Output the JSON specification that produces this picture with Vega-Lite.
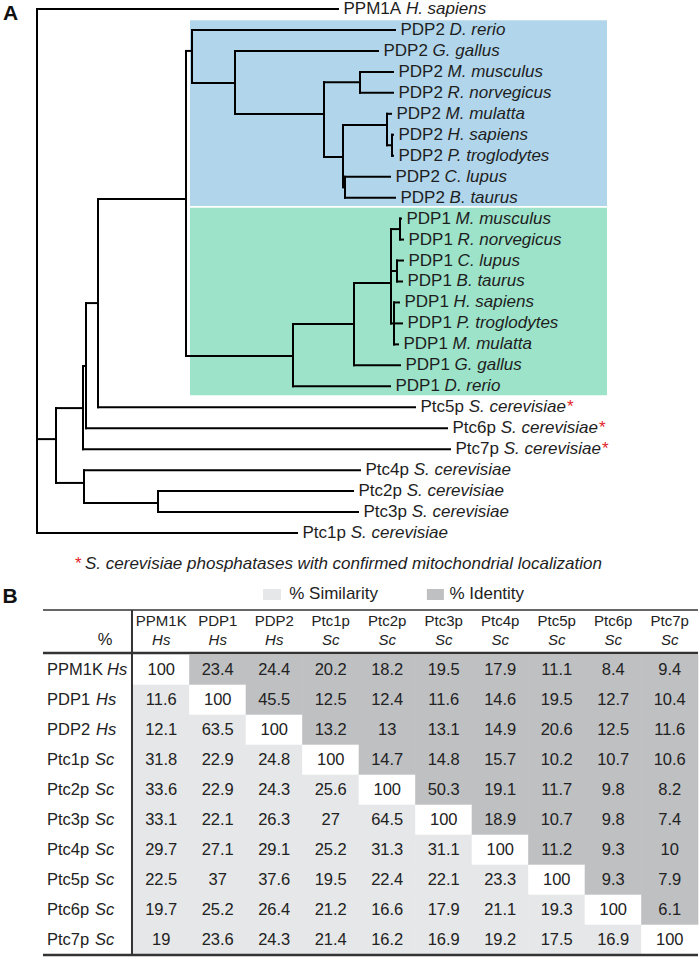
{
  "$schema": "https://vega.github.io/schema/vega-lite/v6.json",
  "background": "white",
  "padding": 0,
  "spacing": 0,
  "bounds": "flush",
  "config": {"view": {"stroke": null}, "font": "Liberation Sans", "axis": {"disable": true}, "legend": {"disable": true}},
  "resolve": {"scale": {"x": "independent", "y": "independent", "color": "independent", "fill": "independent"}},
  "datasets": {
    "clades": [
      {"clade": "PDP2", "x1": 1.53, "x2": 5.7, "y1": 0.54, "y2": 9.4},
      {"clade": "PDP1", "x1": 1.53, "x2": 5.7, "y1": 9.48, "y2": 18.43}
    ],
    "branches": [
      {"x1": 0, "x2": 0, "y1": 0, "y2": 25},
      {"x1": 0, "x2": 3.01, "y1": 0, "y2": 0},
      {"x1": 0, "x2": 2.6, "y1": 25, "y2": 25},
      {"x1": 0, "x2": 0.19, "y1": 20.52, "y2": 20.52},
      {"x1": 0.19, "x2": 0.19, "y1": 19.04, "y2": 22.61},
      {"x1": 0.19, "x2": 0.46, "y1": 19.04, "y2": 19.04},
      {"x1": 0.19, "x2": 0.47, "y1": 22.61, "y2": 22.61},
      {"x1": 0.47, "x2": 0.47, "y1": 22, "y2": 23.57},
      {"x1": 0.47, "x2": 3.23, "y1": 22, "y2": 22},
      {"x1": 0.47, "x2": 1.21, "y1": 23.57, "y2": 23.57},
      {"x1": 1.21, "x2": 1.21, "y1": 23, "y2": 24},
      {"x1": 1.21, "x2": 3.16, "y1": 23, "y2": 23},
      {"x1": 1.21, "x2": 3.21, "y1": 24, "y2": 24},
      {"x1": 0.46, "x2": 0.46, "y1": 17.03, "y2": 21},
      {"x1": 0.46, "x2": 4.13, "y1": 21, "y2": 21},
      {"x1": 0.46, "x2": 0.49, "y1": 17.03, "y2": 17.03},
      {"x1": 0.49, "x2": 0.49, "y1": 14.03, "y2": 20},
      {"x1": 0.49, "x2": 4.1, "y1": 20, "y2": 20},
      {"x1": 0.49, "x2": 0.61, "y1": 14.03, "y2": 14.03},
      {"x1": 0.61, "x2": 0.61, "y1": 9.06, "y2": 19},
      {"x1": 0.61, "x2": 3.78, "y1": 19, "y2": 19},
      {"x1": 0.61, "x2": 1.49, "y1": 9.06, "y2": 9.06},
      {"x1": 1.49, "x2": 1.49, "y1": 2, "y2": 16.56},
      {"x1": 1.49, "x2": 1.55, "y1": 2, "y2": 2},
      {"x1": 1.55, "x2": 1.55, "y1": 1, "y2": 3.53},
      {"x1": 1.55, "x2": 3.58, "y1": 1, "y2": 1},
      {"x1": 1.55, "x2": 1.98, "y1": 3.53, "y2": 3.53},
      {"x1": 1.98, "x2": 1.98, "y1": 2, "y2": 5.01},
      {"x1": 1.98, "x2": 3.41, "y1": 2, "y2": 2},
      {"x1": 1.98, "x2": 2.87, "y1": 5.01, "y2": 5.01},
      {"x1": 2.87, "x2": 2.87, "y1": 3.5, "y2": 7.06},
      {"x1": 2.87, "x2": 3.23, "y1": 3.5, "y2": 3.5},
      {"x1": 3.23, "x2": 3.23, "y1": 3, "y2": 4},
      {"x1": 3.23, "x2": 3.56, "y1": 3, "y2": 3},
      {"x1": 3.23, "x2": 3.56, "y1": 4, "y2": 4},
      {"x1": 2.87, "x2": 3.06, "y1": 7.06, "y2": 7.06},
      {"x1": 3.06, "x2": 3.06, "y1": 5.53, "y2": 8.5},
      {"x1": 3.06, "x2": 3.5, "y1": 5.53, "y2": 5.53},
      {"x1": 3.5, "x2": 3.5, "y1": 5, "y2": 6.5},
      {"x1": 3.5, "x2": 3.54, "y1": 5, "y2": 5},
      {"x1": 3.5, "x2": 3.55, "y1": 6.5, "y2": 6.5},
      {"x1": 3.55, "x2": 3.55, "y1": 6, "y2": 7},
      {"x1": 3.55, "x2": 3.56, "y1": 6, "y2": 6},
      {"x1": 3.55, "x2": 3.56, "y1": 7, "y2": 7},
      {"x1": 3.06, "x2": 3.08, "y1": 8.5, "y2": 8.5},
      {"x1": 3.08, "x2": 3.08, "y1": 8, "y2": 9},
      {"x1": 3.08, "x2": 3.53, "y1": 8, "y2": 8},
      {"x1": 3.08, "x2": 3.58, "y1": 9, "y2": 9},
      {"x1": 1.49, "x2": 2.56, "y1": 16.56, "y2": 16.56},
      {"x1": 2.56, "x2": 2.56, "y1": 15.03, "y2": 18},
      {"x1": 2.56, "x2": 3.53, "y1": 18, "y2": 18},
      {"x1": 2.56, "x2": 3.17, "y1": 15.03, "y2": 15.03},
      {"x1": 3.17, "x2": 3.17, "y1": 13.07, "y2": 17},
      {"x1": 3.17, "x2": 3.63, "y1": 17, "y2": 17},
      {"x1": 3.17, "x2": 3.54, "y1": 13.07, "y2": 13.07},
      {"x1": 3.54, "x2": 3.54, "y1": 10.5, "y2": 15},
      {"x1": 3.54, "x2": 3.63, "y1": 10.5, "y2": 10.5},
      {"x1": 3.63, "x2": 3.63, "y1": 10, "y2": 11},
      {"x1": 3.63, "x2": 3.64, "y1": 10, "y2": 10},
      {"x1": 3.63, "x2": 3.66, "y1": 11, "y2": 11},
      {"x1": 3.54, "x2": 3.6, "y1": 12.5, "y2": 12.5},
      {"x1": 3.6, "x2": 3.6, "y1": 12, "y2": 13},
      {"x1": 3.6, "x2": 3.66, "y1": 12, "y2": 12},
      {"x1": 3.6, "x2": 3.65, "y1": 13, "y2": 13},
      {"x1": 3.54, "x2": 3.57, "y1": 15, "y2": 15},
      {"x1": 3.57, "x2": 3.57, "y1": 14, "y2": 16},
      {"x1": 3.57, "x2": 3.62, "y1": 14, "y2": 14},
      {"x1": 3.57, "x2": 3.65, "y1": 15, "y2": 15},
      {"x1": 3.57, "x2": 3.61, "y1": 16, "y2": 16}
    ],
    "leaves": [
      {"i": 0, "n": "PPM1A", "s": "H. sapiens", "t": 3.01, "g": "PPM", "m": false},
      {"i": 1, "n": "PDP2", "s": "D. rerio", "t": 3.58, "g": "PDP", "m": false},
      {"i": 2, "n": "PDP2", "s": "G. gallus", "t": 3.41, "g": "PDP", "m": false},
      {"i": 3, "n": "PDP2", "s": "M. musculus", "t": 3.56, "g": "PDP", "m": false},
      {"i": 4, "n": "PDP2", "s": "R. norvegicus", "t": 3.56, "g": "PDP", "m": false},
      {"i": 5, "n": "PDP2", "s": "M. mulatta", "t": 3.54, "g": "PDP", "m": false},
      {"i": 6, "n": "PDP2", "s": "H. sapiens", "t": 3.56, "g": "PDP", "m": false},
      {"i": 7, "n": "PDP2", "s": "P. troglodytes", "t": 3.56, "g": "PDP", "m": false},
      {"i": 8, "n": "PDP2", "s": "C. lupus", "t": 3.53, "g": "PDP", "m": false},
      {"i": 9, "n": "PDP2", "s": "B. taurus", "t": 3.58, "g": "PDP", "m": false},
      {"i": 10, "n": "PDP1", "s": "M. musculus", "t": 3.64, "g": "PDP", "m": false},
      {"i": 11, "n": "PDP1", "s": "R. norvegicus", "t": 3.66, "g": "PDP", "m": false},
      {"i": 12, "n": "PDP1", "s": "C. lupus", "t": 3.66, "g": "PDP", "m": false},
      {"i": 13, "n": "PDP1", "s": "B. taurus", "t": 3.65, "g": "PDP", "m": false},
      {"i": 14, "n": "PDP1", "s": "H. sapiens", "t": 3.62, "g": "PDP", "m": false},
      {"i": 15, "n": "PDP1", "s": "P. troglodytes", "t": 3.65, "g": "PDP", "m": false},
      {"i": 16, "n": "PDP1", "s": "M. mulatta", "t": 3.61, "g": "PDP", "m": false},
      {"i": 17, "n": "PDP1", "s": "G. gallus", "t": 3.63, "g": "PDP", "m": false},
      {"i": 18, "n": "PDP1", "s": "D. rerio", "t": 3.53, "g": "PDP", "m": false},
      {"i": 19, "n": "Ptc5p", "s": "S. cerevisiae", "t": 3.78, "g": "Ptc", "m": true},
      {"i": 20, "n": "Ptc6p", "s": "S. cerevisiae", "t": 4.1, "g": "Ptc", "m": true},
      {"i": 21, "n": "Ptc7p", "s": "S. cerevisiae", "t": 4.13, "g": "Ptc", "m": true},
      {"i": 22, "n": "Ptc4p", "s": "S. cerevisiae", "t": 3.23, "g": "Ptc", "m": false},
      {"i": 23, "n": "Ptc2p", "s": "S. cerevisiae", "t": 3.16, "g": "Ptc", "m": false},
      {"i": 24, "n": "Ptc3p", "s": "S. cerevisiae", "t": 3.21, "g": "Ptc", "m": false},
      {"i": 25, "n": "Ptc1p", "s": "S. cerevisiae", "t": 2.6, "g": "Ptc", "m": false}
    ],
    "cols": [
      {"key": "PPM1K", "s": "Hs", "g": "PPM"},
      {"key": "PDP1", "s": "Hs", "g": "PDP"},
      {"key": "PDP2", "s": "Hs", "g": "PDP"},
      {"key": "Ptc1p", "s": "Sc", "g": "Ptc"},
      {"key": "Ptc2p", "s": "Sc", "g": "Ptc"},
      {"key": "Ptc3p", "s": "Sc", "g": "Ptc"},
      {"key": "Ptc4p", "s": "Sc", "g": "Ptc"},
      {"key": "Ptc5p", "s": "Sc", "g": "Ptc"},
      {"key": "Ptc6p", "s": "Sc", "g": "Ptc"},
      {"key": "Ptc7p", "s": "Sc", "g": "Ptc"}
    ],
    "cells": [
      {"r": "PPM1K", "c": "PPM1K", "v": 100, "k": "D"},
      {"r": "PPM1K", "c": "PDP1", "v": 23.4, "k": "I"},
      {"r": "PPM1K", "c": "PDP2", "v": 24.4, "k": "I"},
      {"r": "PPM1K", "c": "Ptc1p", "v": 20.2, "k": "I"},
      {"r": "PPM1K", "c": "Ptc2p", "v": 18.2, "k": "I"},
      {"r": "PPM1K", "c": "Ptc3p", "v": 19.5, "k": "I"},
      {"r": "PPM1K", "c": "Ptc4p", "v": 17.9, "k": "I"},
      {"r": "PPM1K", "c": "Ptc5p", "v": 11.1, "k": "I"},
      {"r": "PPM1K", "c": "Ptc6p", "v": 8.4, "k": "I"},
      {"r": "PPM1K", "c": "Ptc7p", "v": 9.4, "k": "I"},
      {"r": "PDP1", "c": "PPM1K", "v": 11.6, "k": "S"},
      {"r": "PDP1", "c": "PDP1", "v": 100, "k": "D"},
      {"r": "PDP1", "c": "PDP2", "v": 45.5, "k": "I"},
      {"r": "PDP1", "c": "Ptc1p", "v": 12.5, "k": "I"},
      {"r": "PDP1", "c": "Ptc2p", "v": 12.4, "k": "I"},
      {"r": "PDP1", "c": "Ptc3p", "v": 11.6, "k": "I"},
      {"r": "PDP1", "c": "Ptc4p", "v": 14.6, "k": "I"},
      {"r": "PDP1", "c": "Ptc5p", "v": 19.5, "k": "I"},
      {"r": "PDP1", "c": "Ptc6p", "v": 12.7, "k": "I"},
      {"r": "PDP1", "c": "Ptc7p", "v": 10.4, "k": "I"},
      {"r": "PDP2", "c": "PPM1K", "v": 12.1, "k": "S"},
      {"r": "PDP2", "c": "PDP1", "v": 63.5, "k": "S"},
      {"r": "PDP2", "c": "PDP2", "v": 100, "k": "D"},
      {"r": "PDP2", "c": "Ptc1p", "v": 13.2, "k": "I"},
      {"r": "PDP2", "c": "Ptc2p", "v": 13, "k": "I"},
      {"r": "PDP2", "c": "Ptc3p", "v": 13.1, "k": "I"},
      {"r": "PDP2", "c": "Ptc4p", "v": 14.9, "k": "I"},
      {"r": "PDP2", "c": "Ptc5p", "v": 20.6, "k": "I"},
      {"r": "PDP2", "c": "Ptc6p", "v": 12.5, "k": "I"},
      {"r": "PDP2", "c": "Ptc7p", "v": 11.6, "k": "I"},
      {"r": "Ptc1p", "c": "PPM1K", "v": 31.8, "k": "S"},
      {"r": "Ptc1p", "c": "PDP1", "v": 22.9, "k": "S"},
      {"r": "Ptc1p", "c": "PDP2", "v": 24.8, "k": "S"},
      {"r": "Ptc1p", "c": "Ptc1p", "v": 100, "k": "D"},
      {"r": "Ptc1p", "c": "Ptc2p", "v": 14.7, "k": "I"},
      {"r": "Ptc1p", "c": "Ptc3p", "v": 14.8, "k": "I"},
      {"r": "Ptc1p", "c": "Ptc4p", "v": 15.7, "k": "I"},
      {"r": "Ptc1p", "c": "Ptc5p", "v": 10.2, "k": "I"},
      {"r": "Ptc1p", "c": "Ptc6p", "v": 10.7, "k": "I"},
      {"r": "Ptc1p", "c": "Ptc7p", "v": 10.6, "k": "I"},
      {"r": "Ptc2p", "c": "PPM1K", "v": 33.6, "k": "S"},
      {"r": "Ptc2p", "c": "PDP1", "v": 22.9, "k": "S"},
      {"r": "Ptc2p", "c": "PDP2", "v": 24.3, "k": "S"},
      {"r": "Ptc2p", "c": "Ptc1p", "v": 25.6, "k": "S"},
      {"r": "Ptc2p", "c": "Ptc2p", "v": 100, "k": "D"},
      {"r": "Ptc2p", "c": "Ptc3p", "v": 50.3, "k": "I"},
      {"r": "Ptc2p", "c": "Ptc4p", "v": 19.1, "k": "I"},
      {"r": "Ptc2p", "c": "Ptc5p", "v": 11.7, "k": "I"},
      {"r": "Ptc2p", "c": "Ptc6p", "v": 9.8, "k": "I"},
      {"r": "Ptc2p", "c": "Ptc7p", "v": 8.2, "k": "I"},
      {"r": "Ptc3p", "c": "PPM1K", "v": 33.1, "k": "S"},
      {"r": "Ptc3p", "c": "PDP1", "v": 22.1, "k": "S"},
      {"r": "Ptc3p", "c": "PDP2", "v": 26.3, "k": "S"},
      {"r": "Ptc3p", "c": "Ptc1p", "v": 27, "k": "S"},
      {"r": "Ptc3p", "c": "Ptc2p", "v": 64.5, "k": "S"},
      {"r": "Ptc3p", "c": "Ptc3p", "v": 100, "k": "D"},
      {"r": "Ptc3p", "c": "Ptc4p", "v": 18.9, "k": "I"},
      {"r": "Ptc3p", "c": "Ptc5p", "v": 10.7, "k": "I"},
      {"r": "Ptc3p", "c": "Ptc6p", "v": 9.8, "k": "I"},
      {"r": "Ptc3p", "c": "Ptc7p", "v": 7.4, "k": "I"},
      {"r": "Ptc4p", "c": "PPM1K", "v": 29.7, "k": "S"},
      {"r": "Ptc4p", "c": "PDP1", "v": 27.1, "k": "S"},
      {"r": "Ptc4p", "c": "PDP2", "v": 29.1, "k": "S"},
      {"r": "Ptc4p", "c": "Ptc1p", "v": 25.2, "k": "S"},
      {"r": "Ptc4p", "c": "Ptc2p", "v": 31.3, "k": "S"},
      {"r": "Ptc4p", "c": "Ptc3p", "v": 31.1, "k": "S"},
      {"r": "Ptc4p", "c": "Ptc4p", "v": 100, "k": "D"},
      {"r": "Ptc4p", "c": "Ptc5p", "v": 11.2, "k": "I"},
      {"r": "Ptc4p", "c": "Ptc6p", "v": 9.3, "k": "I"},
      {"r": "Ptc4p", "c": "Ptc7p", "v": 10, "k": "I"},
      {"r": "Ptc5p", "c": "PPM1K", "v": 22.5, "k": "S"},
      {"r": "Ptc5p", "c": "PDP1", "v": 37, "k": "S"},
      {"r": "Ptc5p", "c": "PDP2", "v": 37.6, "k": "S"},
      {"r": "Ptc5p", "c": "Ptc1p", "v": 19.5, "k": "S"},
      {"r": "Ptc5p", "c": "Ptc2p", "v": 22.4, "k": "S"},
      {"r": "Ptc5p", "c": "Ptc3p", "v": 22.1, "k": "S"},
      {"r": "Ptc5p", "c": "Ptc4p", "v": 23.3, "k": "S"},
      {"r": "Ptc5p", "c": "Ptc5p", "v": 100, "k": "D"},
      {"r": "Ptc5p", "c": "Ptc6p", "v": 9.3, "k": "I"},
      {"r": "Ptc5p", "c": "Ptc7p", "v": 7.9, "k": "I"},
      {"r": "Ptc6p", "c": "PPM1K", "v": 19.7, "k": "S"},
      {"r": "Ptc6p", "c": "PDP1", "v": 25.2, "k": "S"},
      {"r": "Ptc6p", "c": "PDP2", "v": 26.4, "k": "S"},
      {"r": "Ptc6p", "c": "Ptc1p", "v": 21.2, "k": "S"},
      {"r": "Ptc6p", "c": "Ptc2p", "v": 16.6, "k": "S"},
      {"r": "Ptc6p", "c": "Ptc3p", "v": 17.9, "k": "S"},
      {"r": "Ptc6p", "c": "Ptc4p", "v": 21.1, "k": "S"},
      {"r": "Ptc6p", "c": "Ptc5p", "v": 19.3, "k": "S"},
      {"r": "Ptc6p", "c": "Ptc6p", "v": 100, "k": "D"},
      {"r": "Ptc6p", "c": "Ptc7p", "v": 6.1, "k": "I"},
      {"r": "Ptc7p", "c": "PPM1K", "v": 19, "k": "S"},
      {"r": "Ptc7p", "c": "PDP1", "v": 23.6, "k": "S"},
      {"r": "Ptc7p", "c": "PDP2", "v": 24.3, "k": "S"},
      {"r": "Ptc7p", "c": "Ptc1p", "v": 21.4, "k": "S"},
      {"r": "Ptc7p", "c": "Ptc2p", "v": 16.2, "k": "S"},
      {"r": "Ptc7p", "c": "Ptc3p", "v": 16.9, "k": "S"},
      {"r": "Ptc7p", "c": "Ptc4p", "v": 19.2, "k": "S"},
      {"r": "Ptc7p", "c": "Ptc5p", "v": 17.5, "k": "S"},
      {"r": "Ptc7p", "c": "Ptc6p", "v": 16.9, "k": "S"},
      {"r": "Ptc7p", "c": "Ptc7p", "v": 100, "k": "D"}
    ]
  },
  "vconcat": [
    {
      "width": 700,
      "height": 575,
      "layer": [
        {
          "data": {"name": "clades"},
          "mark": {"type": "rect"},
          "encoding": {
            "x": {"field": "x1", "type": "quantitative", "scale": {"domain": [-0.37, 6.63], "nice": false, "zero": false}},
            "x2": {"field": "x2"},
            "y": {"field": "y1", "type": "quantitative", "scale": {"domain": [-0.3817, 27.05], "nice": false, "zero": false, "reverse": true}},
            "y2": {"field": "y2"},
            "color": {"field": "clade", "type": "nominal", "scale": {"domain": ["PDP2", "PDP1"], "range": ["#b1d6ec", "#9de3c9"]}, "legend": null}
          }
        },
        {
          "data": {"name": "branches"},
          "mark": {"type": "rule", "color": "#000000", "strokeWidth": 2, "strokeCap": "square"},
          "encoding": {
            "x": {"field": "x1", "type": "quantitative", "scale": {"domain": [-0.37, 6.63], "nice": false, "zero": false}},
            "x2": {"field": "x2"},
            "y": {"field": "y1", "type": "quantitative", "scale": {"domain": [-0.3817, 27.05], "nice": false, "zero": false, "reverse": true}},
            "y2": {"field": "y2"}
          }
        },
        {
          "data": {"name": "leaves"},
          "mark": {"type": "text", "align": "left", "baseline": "middle", "dx": 5.5, "fontSize": 17, "color": "#1e1e1e"},
          "encoding": {
            "x": {"field": "t", "type": "quantitative"},
            "y": {"field": "i", "type": "quantitative"},
            "text": {"field": "n"}
          }
        },
        {
          "data": {"name": "leaves"},
          "transform": [{"filter": "datum.g === 'PDP'"}],
          "mark": {"type": "text", "align": "left", "baseline": "middle", "dx": 54.6, "fontSize": 17, "fontStyle": "italic", "color": "#1e1e1e"},
          "encoding": {
            "x": {"field": "t", "type": "quantitative"},
            "y": {"field": "i", "type": "quantitative"},
            "text": {"field": "s"}
          }
        },
        {
          "data": {"name": "leaves"},
          "transform": [{"filter": "datum.g === 'Ptc'"}],
          "mark": {"type": "text", "align": "left", "baseline": "middle", "dx": 53.7, "fontSize": 17, "fontStyle": "italic", "color": "#1e1e1e"},
          "encoding": {
            "x": {"field": "t", "type": "quantitative"},
            "y": {"field": "i", "type": "quantitative"},
            "text": {"field": "s"}
          }
        },
        {
          "data": {"name": "leaves"},
          "transform": [{"filter": "datum.g === 'PPM'"}],
          "mark": {"type": "text", "align": "left", "baseline": "middle", "dx": 67.9, "fontSize": 17, "fontStyle": "italic", "color": "#1e1e1e"},
          "encoding": {
            "x": {"field": "t", "type": "quantitative"},
            "y": {"field": "i", "type": "quantitative"},
            "text": {"field": "s"}
          }
        },
        {
          "data": {"name": "leaves"},
          "transform": [{"filter": "datum.m"}],
          "mark": {"type": "text", "align": "left", "baseline": "middle", "dx": 152, "fontSize": 17, "color": "#e2232b", "text": "*"},
          "encoding": {
            "x": {"field": "t", "type": "quantitative"},
            "y": {"field": "i", "type": "quantitative"}
          }
        },
        {
          "data": {"values": [{}]},
          "mark": {"type": "text", "align": "left", "baseline": "middle", "fontSize": 21, "fontWeight": "bold", "color": "#111111", "text": "A"},
          "encoding": {
            "x": {"datum": -0.34, "type": "quantitative"},
            "y": {"datum": 0.26, "type": "quantitative"}
          }
        },
        {
          "data": {"values": [{}]},
          "mark": {"type": "text", "align": "left", "baseline": "middle", "fontSize": 17, "color": "#e2232b", "text": "*"},
          "encoding": {
            "x": {"datum": 0.38, "type": "quantitative"},
            "y": {"datum": 26.48, "type": "quantitative"}
          }
        },
        {
          "data": {"values": [{}]},
          "mark": {"type": "text", "align": "left", "baseline": "middle", "fontSize": 17, "fontStyle": "italic", "color": "#1e1e1e", "text": "S. cerevisiae phosphatases with confirmed mitochondrial localization"},
          "encoding": {
            "x": {"datum": 0.48, "type": "quantitative"},
            "y": {"datum": 26.48, "type": "quantitative"}
          }
        }
      ]
    },
    {
      "width": 700,
      "height": 382,
      "resolve": {"scale": {"x": "independent", "y": "independent"}},
      "layer": [
        {
          "data": {"name": "cells"},
          "mark": {"type": "rect", "strokeWidth": 0.6},
          "encoding": {
            "x": {"field": "c", "type": "nominal", "scale": {"type": "band", "domain": ["PPM1K", "PDP1", "PDP2", "Ptc1p", "Ptc2p", "Ptc3p", "Ptc4p", "Ptc5p", "Ptc6p", "Ptc7p"], "paddingInner": 0, "paddingOuter": 0, "range": [133, 698]}},
            "y": {"field": "r", "type": "nominal", "scale": {"type": "band", "domain": ["PPM1K", "PDP1", "PDP2", "Ptc1p", "Ptc2p", "Ptc3p", "Ptc4p", "Ptc5p", "Ptc6p", "Ptc7p"], "paddingInner": 0, "paddingOuter": 0, "range": [79, 379]}},
            "fill": {"field": "k", "type": "nominal", "scale": {"domain": ["S", "I", "D"], "range": ["#e6e7e8", "#bfc0c2", "#ffffff"]}, "legend": null},
            "stroke": {"field": "k", "type": "nominal", "scale": {"domain": ["S", "I", "D"], "range": ["#e6e7e8", "#bfc0c2", "#ffffff"]}, "legend": null}
          }
        },
        {
          "data": {"name": "cells"},
          "mark": {"type": "text", "baseline": "middle", "fontSize": 16.5, "color": "#222222"},
          "encoding": {
            "x": {"field": "c", "type": "nominal", "scale": {"type": "band", "domain": ["PPM1K", "PDP1", "PDP2", "Ptc1p", "Ptc2p", "Ptc3p", "Ptc4p", "Ptc5p", "Ptc6p", "Ptc7p"], "paddingInner": 0, "paddingOuter": 0, "range": [133, 698]}},
            "y": {"field": "r", "type": "nominal", "scale": {"type": "band", "domain": ["PPM1K", "PDP1", "PDP2", "Ptc1p", "Ptc2p", "Ptc3p", "Ptc4p", "Ptc5p", "Ptc6p", "Ptc7p"], "paddingInner": 0, "paddingOuter": 0, "range": [79, 379]}},
            "text": {"field": "v", "type": "nominal"}
          }
        },
        {
          "data": {"name": "cols"},
          "mark": {"type": "text", "baseline": "middle", "fontSize": 15, "color": "#222222"},
          "encoding": {
            "x": {"field": "key", "type": "nominal", "scale": {"type": "band", "domain": ["PPM1K", "PDP1", "PDP2", "Ptc1p", "Ptc2p", "Ptc3p", "Ptc4p", "Ptc5p", "Ptc6p", "Ptc7p"], "paddingInner": 0, "paddingOuter": 0, "range": [133, 698]}},
            "y": {"datum": -1.633, "type": "quantitative", "scale": {"domain": [-3.1333, 9.6], "nice": false, "zero": false, "reverse": true}},
            "text": {"field": "key"}
          }
        },
        {
          "data": {"name": "cols"},
          "mark": {"type": "text", "baseline": "middle", "fontSize": 15, "fontStyle": "italic", "color": "#222222"},
          "encoding": {
            "x": {"field": "key", "type": "nominal", "scale": {"type": "band", "domain": ["PPM1K", "PDP1", "PDP2", "Ptc1p", "Ptc2p", "Ptc3p", "Ptc4p", "Ptc5p", "Ptc6p", "Ptc7p"], "paddingInner": 0, "paddingOuter": 0, "range": [133, 698]}},
            "y": {"datum": -1.0, "type": "quantitative", "scale": {"domain": [-3.1333, 9.6], "nice": false, "zero": false, "reverse": true}},
            "text": {"field": "s"}
          }
        },
        {
          "data": {"name": "cols"},
          "mark": {"type": "text", "align": "left", "baseline": "middle", "fontSize": 16.5, "color": "#222222"},
          "encoding": {
            "x": {"datum": -2.022, "type": "quantitative", "scale": {"domain": [-2.854, 9.535], "nice": false, "zero": false}},
            "y": {"field": "key", "type": "nominal", "scale": {"type": "band", "domain": ["PPM1K", "PDP1", "PDP2", "Ptc1p", "Ptc2p", "Ptc3p", "Ptc4p", "Ptc5p", "Ptc6p", "Ptc7p"], "paddingInner": 0, "paddingOuter": 0, "range": [79, 379]}},
            "text": {"field": "key"}
          }
        },
        {
          "data": {"name": "cols"},
          "transform": [{"filter": "datum.g === 'PPM'"}],
          "mark": {"type": "text", "align": "left", "baseline": "middle", "fontSize": 16.5, "fontStyle": "italic", "dx": 60, "color": "#222222"},
          "encoding": {
            "x": {"datum": -2.022, "type": "quantitative", "scale": {"domain": [-2.854, 9.535], "nice": false, "zero": false}},
            "y": {"field": "key", "type": "nominal", "scale": {"type": "band", "domain": ["PPM1K", "PDP1", "PDP2", "Ptc1p", "Ptc2p", "Ptc3p", "Ptc4p", "Ptc5p", "Ptc6p", "Ptc7p"], "paddingInner": 0, "paddingOuter": 0, "range": [79, 379]}},
            "text": {"field": "s"}
          }
        },
        {
          "data": {"name": "cols"},
          "transform": [{"filter": "datum.g === 'PDP'"}],
          "mark": {"type": "text", "align": "left", "baseline": "middle", "fontSize": 16.5, "fontStyle": "italic", "dx": 49, "color": "#222222"},
          "encoding": {
            "x": {"datum": -2.022, "type": "quantitative", "scale": {"domain": [-2.854, 9.535], "nice": false, "zero": false}},
            "y": {"field": "key", "type": "nominal", "scale": {"type": "band", "domain": ["PPM1K", "PDP1", "PDP2", "Ptc1p", "Ptc2p", "Ptc3p", "Ptc4p", "Ptc5p", "Ptc6p", "Ptc7p"], "paddingInner": 0, "paddingOuter": 0, "range": [79, 379]}},
            "text": {"field": "s"}
          }
        },
        {
          "data": {"name": "cols"},
          "transform": [{"filter": "datum.g === 'Ptc'"}],
          "mark": {"type": "text", "align": "left", "baseline": "middle", "fontSize": 16.5, "fontStyle": "italic", "dx": 48, "color": "#222222"},
          "encoding": {
            "x": {"datum": -2.022, "type": "quantitative", "scale": {"domain": [-2.854, 9.535], "nice": false, "zero": false}},
            "y": {"field": "key", "type": "nominal", "scale": {"type": "band", "domain": ["PPM1K", "PDP1", "PDP2", "Ptc1p", "Ptc2p", "Ptc3p", "Ptc4p", "Ptc5p", "Ptc6p", "Ptc7p"], "paddingInner": 0, "paddingOuter": 0, "range": [79, 379]}},
            "text": {"field": "s"}
          }
        },
        {
          "data": {"values": [{}]},
          "mark": {"type": "text", "align": "center", "baseline": "middle", "fontSize": 16.5, "color": "#222222", "text": "%"},
          "encoding": {
            "x": {"datum": -0.996, "type": "quantitative", "scale": {"domain": [-2.854, 9.535], "nice": false, "zero": false}},
            "y": {"datum": -1.0, "type": "quantitative", "scale": {"domain": [-3.1333, 9.6], "nice": false, "zero": false, "reverse": true}}
          }
        },
        {
          "data": {"values": [{}]},
          "mark": {"type": "rule", "color": "#333333", "strokeWidth": 1.5},
          "encoding": {
            "x": {"datum": -2.093, "type": "quantitative", "scale": {"domain": [-2.854, 9.535], "nice": false, "zero": false}},
            "x2": {"datum": 9.5},
            "y": {"datum": -2.0, "type": "quantitative", "scale": {"domain": [-3.1333, 9.6], "nice": false, "zero": false, "reverse": true}}
          }
        },
        {
          "data": {"values": [{}]},
          "mark": {"type": "rule", "color": "#333333", "strokeWidth": 2.5},
          "encoding": {
            "x": {"datum": -2.093, "type": "quantitative", "scale": {"domain": [-2.854, 9.535], "nice": false, "zero": false}},
            "x2": {"datum": 9.5},
            "y": {"datum": -0.567, "type": "quantitative", "scale": {"domain": [-3.1333, 9.6], "nice": false, "zero": false, "reverse": true}}
          }
        },
        {
          "data": {"values": [{}]},
          "mark": {"type": "rule", "color": "#333333", "strokeWidth": 2.5},
          "encoding": {
            "x": {"datum": -2.093, "type": "quantitative", "scale": {"domain": [-2.854, 9.535], "nice": false, "zero": false}},
            "x2": {"datum": 9.5},
            "y": {"datum": 9.5, "type": "quantitative", "scale": {"domain": [-3.1333, 9.6], "nice": false, "zero": false, "reverse": true}}
          }
        },
        {
          "data": {"values": [{}]},
          "mark": {"type": "rule", "color": "#333333", "strokeWidth": 2},
          "encoding": {
            "x": {"datum": -0.518, "type": "quantitative", "scale": {"domain": [-2.854, 9.535], "nice": false, "zero": false}},
            "y": {"datum": -2.0, "type": "quantitative", "scale": {"domain": [-3.1333, 9.6], "nice": false, "zero": false, "reverse": true}},
            "y2": {"datum": 9.5}
          }
        },
        {
          "data": {"values": [{}]},
          "mark": {"type": "rect"},
          "encoding": {
            "x": {"datum": 1.801, "type": "quantitative", "scale": {"domain": [-2.854, 9.535], "nice": false, "zero": false}},
            "x2": {"datum": 2.119},
            "y": {"datum": -2.7, "type": "quantitative", "scale": {"domain": [-3.1333, 9.6], "nice": false, "zero": false, "reverse": true}},
            "y2": {"datum": -2.333},
            "fill": {"datum": "S", "type": "nominal", "scale": {"domain": ["S", "I", "D"], "range": ["#e6e7e8", "#bfc0c2", "#ffffff"]}, "legend": null}
          }
        },
        {
          "data": {"values": [{}]},
          "mark": {"type": "rect"},
          "encoding": {
            "x": {"datum": 4.701, "type": "quantitative", "scale": {"domain": [-2.854, 9.535], "nice": false, "zero": false}},
            "x2": {"datum": 5.003},
            "y": {"datum": -2.7, "type": "quantitative", "scale": {"domain": [-3.1333, 9.6], "nice": false, "zero": false, "reverse": true}},
            "y2": {"datum": -2.333},
            "fill": {"datum": "I", "type": "nominal", "scale": {"domain": ["S", "I", "D"], "range": ["#e6e7e8", "#bfc0c2", "#ffffff"]}, "legend": null}
          }
        },
        {
          "data": {"values": [{}]},
          "mark": {"type": "text", "align": "left", "baseline": "middle", "fontSize": 17, "color": "#222222", "text": "% Similarity"},
          "encoding": {
            "x": {"datum": 2.265, "type": "quantitative", "scale": {"domain": [-2.854, 9.535], "nice": false, "zero": false}},
            "y": {"datum": -2.533, "type": "quantitative", "scale": {"domain": [-3.1333, 9.6], "nice": false, "zero": false, "reverse": true}}
          }
        },
        {
          "data": {"values": [{}]},
          "mark": {"type": "text", "align": "left", "baseline": "middle", "fontSize": 17, "color": "#222222", "text": "% Identity"},
          "encoding": {
            "x": {"datum": 5.1, "type": "quantitative", "scale": {"domain": [-2.854, 9.535], "nice": false, "zero": false}},
            "y": {"datum": -2.533, "type": "quantitative", "scale": {"domain": [-3.1333, 9.6], "nice": false, "zero": false, "reverse": true}}
          }
        },
        {
          "data": {"values": [{}]},
          "mark": {"type": "text", "align": "left", "baseline": "middle", "fontSize": 21, "fontWeight": "bold", "color": "#111111", "text": "B"},
          "encoding": {
            "x": {"datum": -2.81, "type": "quantitative", "scale": {"domain": [-2.854, 9.535], "nice": false, "zero": false}},
            "y": {"datum": -2.433, "type": "quantitative", "scale": {"domain": [-3.1333, 9.6], "nice": false, "zero": false, "reverse": true}}
          }
        }
      ]
    }
  ]
}
